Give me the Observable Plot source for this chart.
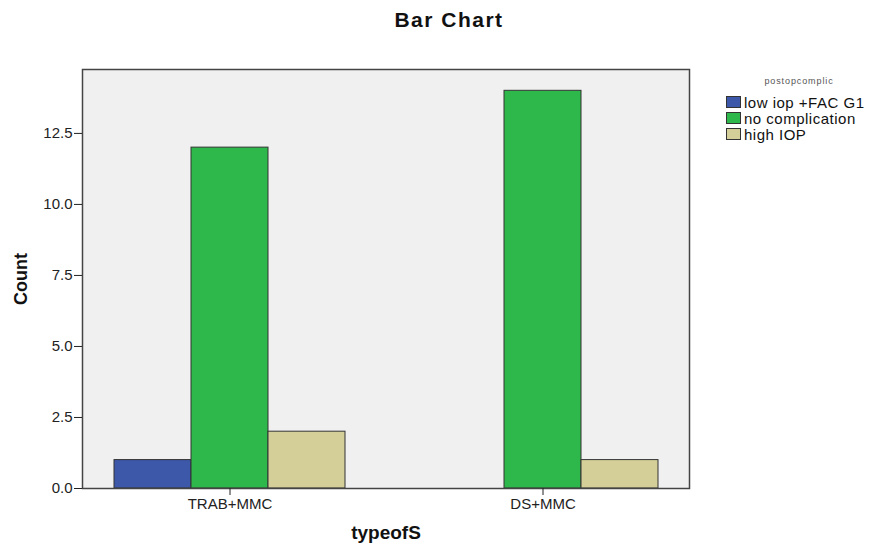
<!DOCTYPE html>
<html>
<head>
<meta charset="utf-8">
<script src="https://cdn.jsdelivr.net/npm/d3@7"></script>
<script src="https://cdn.jsdelivr.net/npm/@observablehq/plot@0.6"></script>
<style>
  body { margin: 0; background: #fff; font-family: Arial, "Liberation Sans", sans-serif; }
  #wrap { position: relative; width: 870px; height: 544px; overflow: hidden; }
  #title { position: absolute; left: 449px; top: 8px; transform: translateX(-50%);
           font-weight: bold; font-size: 21px; line-height: 24px; letter-spacing: 1.5px;
           white-space: nowrap; color: #111; }
  #chart { position: absolute; left: 0; top: 40px; }
  #legend-title { position: absolute; left: 799px; top: 76px; transform: translateX(-50%);
                  font-size: 9px; letter-spacing: 0.9px; color: #555; white-space: nowrap; }
  #legend { position: absolute; left: 726px; top: 94px; }
  .row { display: flex; align-items: center; height: 16px; font-size: 15px; letter-spacing: 0.5px;
         color: #111; white-space: nowrap; }
  .sw { width: 13px; height: 10px; border: 1px solid #333; margin-right: 3px; }
  g[aria-label="x-title"] text { letter-spacing: 1.2px; }
</style>
</head>
<body>
<div id="wrap">
  <div id="title">Bar Chart</div>
  <div id="chart"></div>
  <div id="legend-title">postopcomplic</div>
  <div id="legend"></div>
</div>
<script>
// ---- data ----
const categories = ["TRAB+MMC", "DS+MMC"];
const series = ["low iop +FAC G1", "no complication", "high IOP"];
const lowIop = [1, 0];
const noComplication = [12, 14];
const highIop = [2, 1];
const yTicks = [0, 2.5, 5, 7.5, 10, 12.5];
const colors = ["#3d57a9", "#2eb84b", "#d4cf98"];

const seriesValues = [lowIop, noComplication, highIop];
const rows = [];
series.forEach((s, k) => categories.forEach((c, i) => rows.push({category: c, series: s, value: seriesValues[k][i]})));

const barW = 77;
const offsets = [-barW, 0, barW];

const chart = Plot.plot({
  width: 870,
  height: 504,
  marginTop: 29,
  marginBottom: 56,
  marginLeft: 82,
  marginRight: 181,
  style: {fontFamily: 'Arial, "Liberation Sans", sans-serif', color: "#222", background: "transparent"},
  x: {domain: categories, paddingInner: 0.7548, paddingOuter: 0.344, axis: null},
  y: {domain: [0, 14.75], axis: null},
  color: {domain: series, range: colors},
  marks: [
    Plot.frame({fill: "#f0f0f0", stroke: null}),
    ...series.map((s, k) => Plot.barY(rows.filter(d => d.series === s && d.value > 0), {
      x: "category", y: "value", fill: "series", stroke: "#333", strokeWidth: 1, dx: offsets[k]
    })),
    Plot.frame({stroke: "#444", strokeWidth: 1.5}),
    Plot.axisY(yTicks, {tickSize: 8, tickPadding: 2, tickFormat: d3.format(".1f"), label: null, fontSize: 15}),
    Plot.axisX({tickSize: 7, tickPadding: 3, label: null, fontSize: 15}),
    Plot.text(["Count"], {frameAnchor: "left", textAnchor: "middle", rotate: -90, dx: -61, fontWeight: "bold", fontSize: 18, fill: "#111"}),
    Plot.text(["typeofS"], {frameAnchor: "bottom", dy: 50, fontWeight: "bold", fontSize: 19, fill: "#111", ariaLabel: "x-title"})
  ]
});
document.getElementById("chart").appendChild(chart);

const legend = document.getElementById("legend");
series.forEach((s, k) => {
  const row = document.createElement("div");
  row.className = "row";
  const sw = document.createElement("div");
  sw.className = "sw";
  sw.style.background = colors[k];
  const t = document.createElement("span");
  t.textContent = s;
  row.appendChild(sw);
  row.appendChild(t);
  legend.appendChild(row);
});
</script>
</body>
</html>
